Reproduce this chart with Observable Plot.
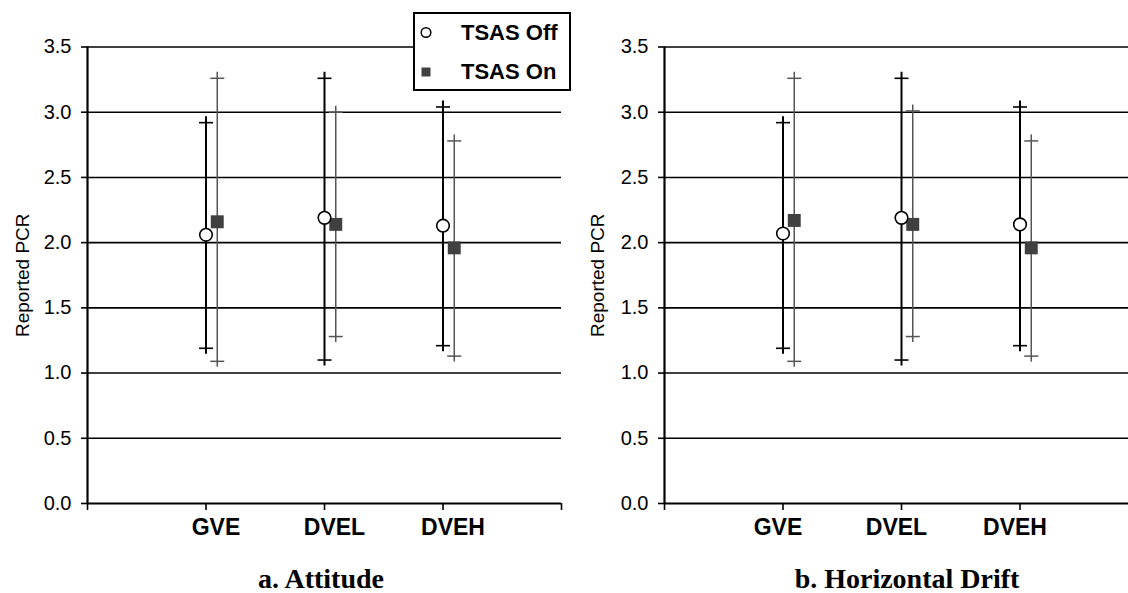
<!DOCTYPE html>
<html>
<head>
<meta charset="utf-8">
<script src="https://cdn.jsdelivr.net/npm/d3@7"></script>
<script src="https://cdn.jsdelivr.net/npm/@observablehq/plot@0.6"></script>
<style>
  html, body { margin: 0; padding: 0; background: #fff; }
  #root { position: relative; width: 1128px; height: 593px; overflow: hidden; background: #fff;
          font-family: "Liberation Sans", Arial, sans-serif; color: #000; }
  .panel { position: absolute; top: 0; }
  .caption { position: absolute; width: 400px; text-align: center; font-family: "Liberation Serif", "Times New Roman", serif;
             font-weight: bold; font-size: 28px; line-height: 24px; top: 567px; }
  #legend { position: absolute; left: 413px; top: 12px; width: 154px; height: 75px; border: 2px solid #000; background: #fff; }
  .legtext { position: absolute; left: 46px; font-weight: bold; font-size: 22px; line-height: 22px; height: 22px; white-space: nowrap; }
  .legsym { position: absolute; left: 0; top: 0; }
</style>
</head>
<body>
<div id="root">
  <div class="panel" id="pa" style="left:0px;width:564px"></div>
  <div class="panel" id="pb" style="left:564px;width:574px"></div>
  <div class="caption" style="left:121px">a. Attitude</div>
  <div class="caption" style="left:707px">b. Horizontal Drift</div>
  <div id="legend">
    <svg class="legsym" width="40" height="75">
      <circle cx="11" cy="18.5" r="4.8" fill="#fff" stroke="#000" stroke-width="1.5"></circle>
      <rect x="6.5" y="53.5" width="9" height="9" fill="#404040"></rect>
    </svg>
    <div class="legtext" style="top:8px">TSAS Off</div>
    <div class="legtext" style="top:47px">TSAS On</div>
  </div>
</div>
<script>
// ---- data ----
const categories = ["GVE", "DVEL", "DVEH"];
const yTicks = [0, 0.5, 1.0, 1.5, 2.0, 2.5, 3.0, 3.5];

// a. Attitude
const attOffMean = [2.06, 2.19, 2.13];
const attOffLow  = [1.19, 1.10, 1.21];
const attOffHigh = [2.92, 3.26, 3.04];
const attOnMean  = [2.16, 2.14, 1.96];
const attOnLow   = [1.09, 1.28, 1.13];
const attOnHigh  = [3.26, 3.00, 2.78];

// b. Horizontal Drift
const drOffMean = [2.07, 2.19, 2.14];
const drOffLow  = [1.19, 1.10, 1.21];
const drOffHigh = [2.92, 3.26, 3.04];
const drOnMean  = [2.17, 2.14, 1.96];
const drOnLow   = [1.09, 1.28, 1.13];
const drOnHigh  = [3.26, 3.01, 2.78];

const onShift = 0.095; // horizontal dodge of the "TSAS On" series

const hline = {
  draw(ctx, size) {
    const r = Math.sqrt(size / Math.PI);
    ctx.moveTo(-r, 0);
    ctx.lineTo(r, 0);
  }
};

function panel(s, opts) {
  const off = categories.map((c, i) => ({cat: c, x: i + 1, m: s.offMean[i], lo: s.offLow[i], hi: s.offHigh[i]}));
  const on  = categories.map((c, i) => ({cat: c, x: i + 1 + onShift, m: s.onMean[i], lo: s.onLow[i], hi: s.onHigh[i]}));
  const caps = (rows) => rows.flatMap(d => [{x: d.x, y: d.lo}, {x: d.x, y: d.hi}]);
  return Plot.plot({
    width: opts.width,
    height: 593,
    marginLeft: opts.marginLeft,
    marginRight: opts.marginRight,
    marginTop: 46.5,
    marginBottom: 90,
    style: {fontFamily: '"Liberation Sans", Arial, sans-serif', fontSize: "20px", background: "transparent", color: "#000"},
    x: {domain: [0, 4]},
    y: {domain: [0, 3.5]},
    marks: [
      Plot.gridY(yTicks.slice(1), {stroke: "#000", strokeOpacity: 1, strokeWidth: 1.6}),
      Plot.axisY(yTicks, {tickSize: 6, tickPadding: 10, tickFormat: d3.format(".1f"), fontSize: 20, label: null, strokeWidth: 1.6}),
      Plot.axisX([0, 1, 2, 3, 4], {tickSize: 7, tickFormat: () => "", label: null, strokeWidth: 1.6}),
      Plot.ruleY([0], {strokeWidth: 2.2}),
      Plot.ruleX([0], {strokeWidth: 2.2}),
      Plot.text(off, {x: "x", text: "cat", frameAnchor: "bottom", dy: 31, dx: opts.labelDx, fontSize: 23, fontWeight: "bold"}),
      Plot.text(["Reported PCR"], {frameAnchor: "left", textAnchor: "middle", lineAnchor: "middle", dx: -opts.titleOffset, rotate: -90, fontSize: 19}),
      // TSAS On error bars
      Plot.ruleX(on, {x: "x", y1: "hi", y2: "lo", stroke: "#555", strokeWidth: 1.5, insetTop: -6, insetBottom: -6}),
      Plot.dot(caps(on), {x: "x", y: "y", symbol: hline, r: 7, stroke: "#555", strokeWidth: 1.5, fill: "none"}),
      // TSAS Off error bars
      Plot.ruleX(off, {x: "x", y1: "hi", y2: "lo", stroke: "#000", strokeWidth: 2, insetTop: -6, insetBottom: -6}),
      Plot.dot(caps(off), {x: "x", y: "y", symbol: hline, r: 7, stroke: "#000", strokeWidth: 1.6, fill: "none"}),
      // means
      Plot.dot(on, {x: "x", y: "m", symbol: "square", r: 7.3, fill: "#404040", stroke: "none"}),
      Plot.dot(off, {x: "x", y: "m", symbol: "circle", r: 6.3, fill: "#fff", stroke: "#000", strokeWidth: 1.6})
    ]
  });
}

document.getElementById("pa").appendChild(panel(
  {offMean: attOffMean, offLow: attOffLow, offHigh: attOffHigh, onMean: attOnMean, onLow: attOnLow, onHigh: attOnHigh},
  {width: 564, marginLeft: 87, marginRight: 3, labelDx: 10, titleOffset: 65}
));
document.getElementById("pb").appendChild(panel(
  {offMean: drOffMean, offLow: drOffLow, offHigh: drOffHigh, onMean: drOnMean, onLow: drOnLow, onHigh: drOnHigh},
  {width: 574, marginLeft: 100, marginRight: 0, labelDx: -5, titleOffset: 67}
));
</script>
</body>
</html>
